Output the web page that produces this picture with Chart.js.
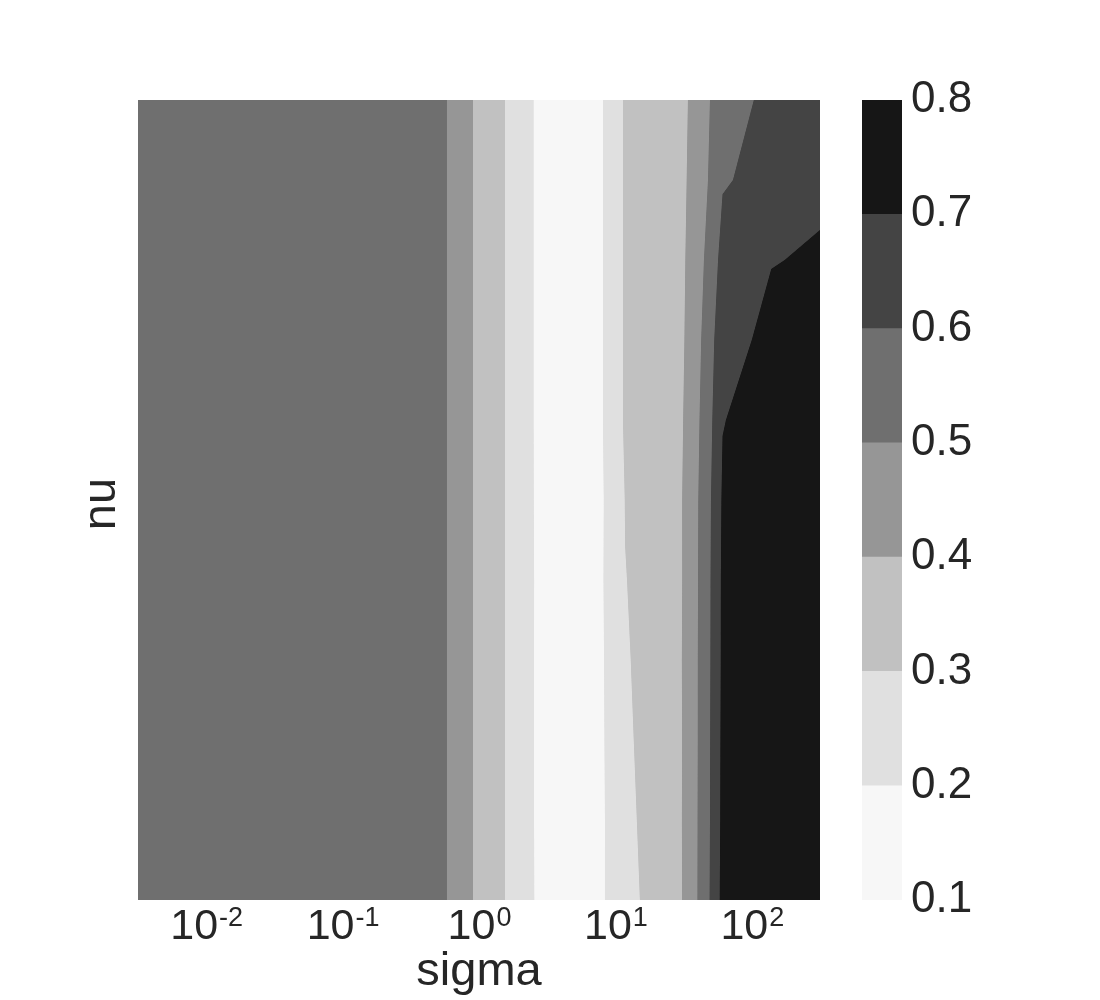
<!DOCTYPE html>
<html>
<head>
<meta charset="utf-8">
<script src="https://cdn.jsdelivr.net/npm/chart.js@4.4.0/dist/chart.umd.min.js"></script>
<style>
  html, body { margin: 0; padding: 0; background: #fff; }
  #wrap { position: relative; width: 1100px; height: 1000px; }
  #main { position: absolute; left: 0; top: 0; }
  #cbar { position: absolute; left: 840px; top: 0; }
</style>
</head>
<body>
<div id="wrap">
  <canvas id="main" width="1100" height="1000"></canvas>
  <canvas id="cbar" width="260" height="1000"></canvas>
</div>
<script>
// contour levels and fill colours (Greys)
const levels = [0.1, 0.2, 0.3, 0.4, 0.5, 0.6, 0.7, 0.8];
const bandColors = ['#f7f7f7', '#e0e0e0', '#c1c1c1', '#969696', '#6f6f6f', '#444444', '#161616'];

// grid: sigma (log spaced) and nu
const sigma = [0.0031623, 0.0071969, 0.016379, 0.037276, 0.084834, 0.19307, 0.43940, 1.0,
               2.2758, 5.1795, 11.788, 26.827, 61.054, 138.95, 316.23];
const nu = [0.0, 0.1, 0.2, 0.3, 0.4, 0.5, 0.6, 0.7, 0.8, 0.9, 1.0];
const xTickExp = ['-2', '-1', '0', '1', '2'];

// score at each sigma, one row per nu value
const scoreNu00 = [0.55, 0.55, 0.55, 0.55, 0.55, 0.55, 0.544, 0.370, 0.208, 0.121, 0.284, 0.356, 0.731, 0.778, 0.790];
const scoreNu01 = [0.55, 0.55, 0.55, 0.55, 0.55, 0.55, 0.544, 0.370, 0.208, 0.117, 0.288, 0.358, 0.725, 0.776, 0.788];
const scoreNu02 = [0.55, 0.55, 0.55, 0.55, 0.55, 0.55, 0.544, 0.370, 0.208, 0.117, 0.292, 0.357, 0.723, 0.775, 0.786];
const scoreNu03 = [0.55, 0.55, 0.55, 0.55, 0.55, 0.55, 0.544, 0.370, 0.208, 0.117, 0.295, 0.359, 0.719, 0.774, 0.784];
const scoreNu04 = [0.55, 0.55, 0.55, 0.55, 0.55, 0.55, 0.544, 0.370, 0.208, 0.118, 0.2985, 0.357, 0.718, 0.772, 0.782];
const scoreNu05 = [0.55, 0.55, 0.55, 0.55, 0.55, 0.55, 0.544, 0.370, 0.208, 0.113, 0.302, 0.358, 0.712, 0.770, 0.780];
const scoreNu06 = [0.55, 0.55, 0.55, 0.55, 0.55, 0.55, 0.544, 0.370, 0.208, 0.110, 0.313, 0.354, 0.697, 0.762, 0.770];
const scoreNu07 = [0.55, 0.55, 0.55, 0.55, 0.55, 0.55, 0.544, 0.370, 0.208, 0.110, 0.313, 0.350, 0.676, 0.724, 0.740];
const scoreNu08 = [0.55, 0.55, 0.55, 0.55, 0.55, 0.55, 0.544, 0.370, 0.208, 0.110, 0.313, 0.352, 0.637, 0.697, 0.712];
const scoreNu09 = [0.55, 0.55, 0.55, 0.55, 0.55, 0.55, 0.544, 0.370, 0.208, 0.110, 0.313, 0.355, 0.592, 0.645, 0.680];
const scoreNu10 = [0.55, 0.55, 0.55, 0.55, 0.55, 0.55, 0.544, 0.370, 0.208, 0.110, 0.313, 0.353, 0.576, 0.620, 0.660];
const scores = [scoreNu00, scoreNu01, scoreNu02, scoreNu03, scoreNu04, scoreNu05,
                scoreNu06, scoreNu07, scoreNu08, scoreNu09, scoreNu10];

const textColor = '#262626';
const fontFamily = "'Liberation Sans', Arial, sans-serif";

// polygon of one grid cell that lies in [lo, hi)
function cellBand(i, j, lo, hi) {
  const corners = [[i, j], [i, j + 1], [i + 1, j + 1], [i + 1, j]];
  const pts = [];
  for (let k = 0; k < 4; k++) {
    const a = corners[k], b = corners[(k + 1) % 4];
    const za = scores[a[0]][a[1]], zb = scores[b[0]][b[1]];
    if (za >= lo && za < hi) pts.push([sigma[a[1]], nu[a[0]]]);
    const ts = [];
    [lo, hi].forEach(L => {
      if ((za - L) * (zb - L) < 0) ts.push((L - za) / (zb - za));
    });
    ts.sort((p, q) => p - q);
    ts.forEach(t => {
      pts.push([sigma[a[1]] + t * (sigma[b[1]] - sigma[a[1]]),
                nu[a[0]] + t * (nu[b[0]] - nu[a[0]])]);
    });
  }
  return pts;
}

const contourPlugin = {
  id: 'contour',
  beforeDatasetsDraw(chart) {
    const {ctx, chartArea, scales: {x, y}} = chart;
    ctx.save();
    ctx.beginPath();
    ctx.rect(chartArea.left, chartArea.top, chartArea.right - chartArea.left, chartArea.bottom - chartArea.top);
    ctx.clip();
    // a few passes so antialiased cell seams don't let the white through
    for (let pass = 0; pass < 3; pass++) {
      for (let b = 0; b < bandColors.length; b++) {
        ctx.beginPath();
        for (let i = 0; i < nu.length - 1; i++) {
          for (let j = 0; j < sigma.length - 1; j++) {
            const poly = cellBand(i, j, levels[b], levels[b + 1]);
            if (poly.length < 3) continue;
            poly.forEach((p, k) => {
              const px = x.getPixelForValue(p[0]), py = y.getPixelForValue(p[1]);
              if (k === 0) ctx.moveTo(px, py); else ctx.lineTo(px, py);
            });
            ctx.closePath();
          }
        }
        ctx.fillStyle = bandColors[b];
        ctx.fill();
      }
    }
    ctx.restore();
  }
};

const axisTextPlugin = {
  id: 'axisText',
  afterDraw(chart) {
    const {ctx, chartArea, scales: {x}} = chart;
    ctx.save();
    ctx.fillStyle = textColor;
    ctx.textBaseline = 'alphabetic';
    ctx.textAlign = 'left';
    xTickExp.forEach(e => {
      const px = x.getPixelForValue(Math.pow(10, Number(e)));
      ctx.font = '43px ' + fontFamily;
      const w1 = ctx.measureText('10').width;
      ctx.font = '27px ' + fontFamily;
      const w2 = ctx.measureText(e).width;
      const x0 = px - (w1 + w2) / 2;
      ctx.font = '43px ' + fontFamily;
      ctx.fillText('10', x0, 939);
      ctx.font = '27px ' + fontFamily;
      ctx.fillText(e, x0 + w1 + 1, 926);
    });
    ctx.font = '47px ' + fontFamily;
    ctx.textAlign = 'center';
    ctx.fillText('sigma', (chartArea.left + chartArea.right) / 2, 985);
    ctx.translate(115, (chartArea.top + chartArea.bottom) / 2 + 4);
    ctx.rotate(-Math.PI / 2);
    ctx.fillText('nu', 0, 0);
    ctx.restore();
  }
};

new Chart(document.getElementById('main'), {
  type: 'scatter',
  data: { datasets: [{ data: [], pointRadius: 0 }] },
  options: {
    responsive: false,
    animation: false,
    layout: { padding: { left: 138, right: 280, top: 100, bottom: 100 } },
    plugins: { legend: { display: false }, tooltip: { enabled: false } },
    scales: {
      x: { type: 'logarithmic', bounds: 'data', min: sigma[0], max: sigma[sigma.length - 1], display: false },
      y: { type: 'linear', min: nu[0], max: nu[nu.length - 1], display: false }
    }
  },
  plugins: [contourPlugin, axisTextPlugin]
});

// colorbar
new Chart(document.getElementById('cbar'), {
  type: 'bar',
  data: {
    labels: ['score'],
    datasets: bandColors.map((c, b) => ({
      data: [[levels[b], levels[b + 1]]],
      backgroundColor: c,
      borderWidth: 0,
      barPercentage: 1,
      categoryPercentage: 1,
      grouped: false
    }))
  },
  options: {
    responsive: false,
    animation: false,
    layout: { padding: { left: 22, right: 0, top: 100, bottom: 100 } },
    plugins: { legend: { display: false }, tooltip: { enabled: false } },
    scales: {
      x: { display: false },
      y: {
        position: 'right',
        min: levels[0],
        max: levels[levels.length - 1],
        grid: { display: false },
        border: { display: false },
        ticks: {
          stepSize: 0.1,
          padding: 1,
          color: textColor,
          font: { family: fontFamily, size: 44 },
          callback: v => Number(v).toFixed(1)
        },
        afterFit(scale) { scale.width = 198; }
      }
    }
  }
});
</script>
</body>
</html>
